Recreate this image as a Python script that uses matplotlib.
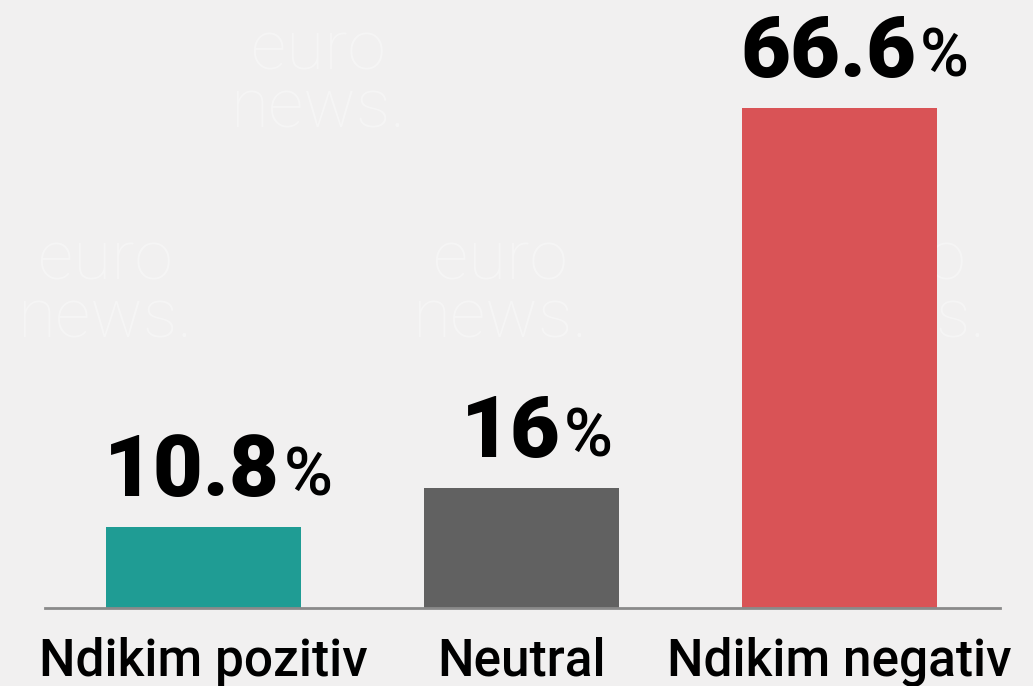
import matplotlib.pyplot as plt

categories = ["Ndikim pozitiv", "Neutral", "Ndikim negativ"]
values = [10.8, 16, 66.6]
colors = ["#1f9c94", "#616161", "#d95356"]

W, H = 1033, 686
fig = plt.figure(figsize=(W / 100, H / 100), dpi=100)
fig.patch.set_facecolor("#f1f0f0")

# faint background watermark
wm_pos = [(318, 80), (105, 290), (500, 290), (898, 290)]
for px, py in wm_pos:
    fig.text(px / W, 1 - py / H, "euro\nnews.", ha="center", va="center",
             fontsize=50, family="Roboto", fontweight="light", color="white",
             alpha=0.35, linespacing=0.85, zorder=-5)

# axes laid out so the baseline sits at y=608 px
ax = fig.add_axes([45 / W, (H - 608) / H, 955 / W, 608 / H])
ax.patch.set_visible(False)
ax.bar(range(len(values)), values, width=0.613, color=colors, zorder=2)
ax.set_xlim(-0.498, 2.505)
ax.set_ylim(0, 80.96)
for s in ["top", "left", "right"]:
    ax.spines[s].set_visible(False)
ax.spines["bottom"].set_color("#8a8a8a")
ax.spines["bottom"].set_linewidth(2)
ax.set_xticks([])
ax.set_yticks([])

# category labels under the baseline
for i, cat in enumerate(categories):
    ax.annotate(cat, xy=(i, 0), xytext=(0, -68), textcoords="offset pixels",
                ha="center", va="baseline", fontsize=37, family="Roboto",
                fontweight="medium", color="black", annotation_clip=False)

# value labels: bold number followed by a smaller percent sign
renderer = fig.canvas.get_renderer()
for i, v in enumerate(values):
    num = ax.annotate(f"{v:g}", xy=(i, v), xytext=(0, 31), textcoords="offset pixels",
                      ha="left", va="baseline", fontsize=62, family="Roboto",
                      fontweight="heavy", color="black", annotation_clip=False)
    pct = ax.annotate("%", xy=(i, v), xytext=(0, 31), textcoords="offset pixels",
                      ha="left", va="baseline", fontsize=48, family="Roboto",
                      fontweight="medium", color="black", annotation_clip=False)
    w_num = num.get_window_extent(renderer).width
    w_pct = pct.get_window_extent(renderer).width
    start = 15 - (w_num + 3 + w_pct) / 2
    num.set_position((start, 31))
    pct.set_position((start + w_num + 3, 31))

fig.savefig("out.png", dpi=100, facecolor=fig.get_facecolor())
